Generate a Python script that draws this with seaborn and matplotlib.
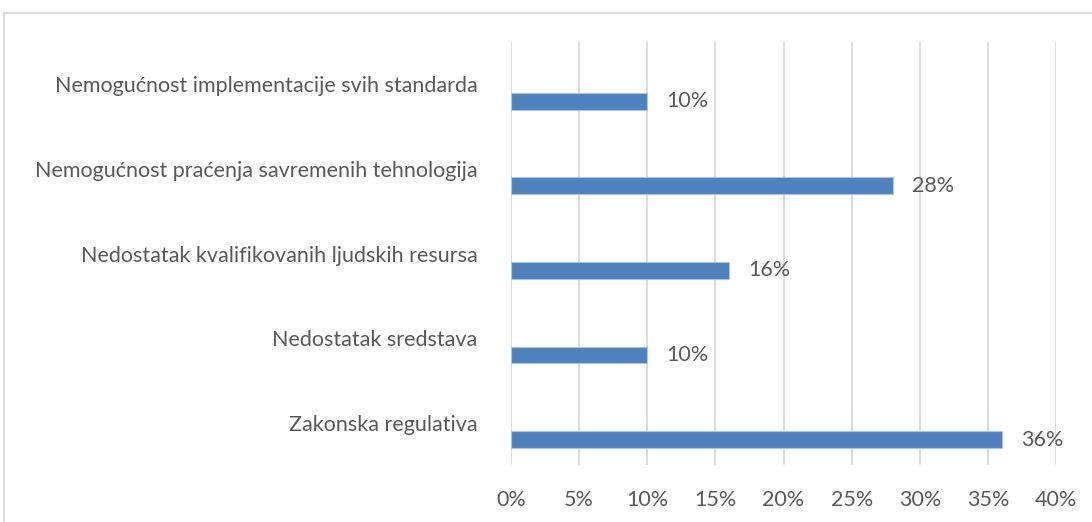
import numpy as np
import pandas as pd
import matplotlib.pyplot as plt
import matplotlib.patches as mpatches
from matplotlib.ticker import MultipleLocator, FuncFormatter
import seaborn as sns

categories = [
    "Nemogućnost implementacije svih standarda",
    "Nemogućnost praćenja savremenih tehnologija",
    "Nedostatak kvalifikovanih ljudskih resursa",
    "Nedostatak sredstava",
    "Zakonska regulativa",
]
values = [10, 28, 16, 10, 36]

TEXT = "#595959"
GRID = "#d9d9d9"
BLUE = "#4f81bd"


def main():
    # empty first series like the Excel original, so the bar sits below the label
    data = pd.concat([
        pd.DataFrame({"category": categories, "value": np.nan, "series": "empty"}),
        pd.DataFrame({"category": categories, "value": values, "series": "value"}),
    ], ignore_index=True)

    sns.set_theme(style="white")
    plt.rcParams["font.family"] = ["Lato", "DejaVu Sans"]

    fig = plt.figure(figsize=(10.92, 5.22), dpi=100)
    ax = fig.add_axes([511 / 1092, 1 - 465 / 522, 545 / 1092, 423 / 522])

    sns.barplot(data=data, x="value", y="category", hue="series",
                hue_order=["empty", "value"], order=categories, palette=[BLUE, BLUE],
                saturation=1, orient="h", width=0.8, gap=0.5, legend=False,
                ax=ax, errorbar=None, edgecolor="#a9c4e4", linewidth=0.8)

    for c in ax.containers:
        ax.bar_label(c, labels=[f"{v:.0f}%" for v in c.datavalues],
                     padding=14, fontsize=15.5, color=TEXT)

    ax.set_xlim(0, 40)
    ax.set_ylim(4.5, -0.5)
    ax.xaxis.set_major_locator(MultipleLocator(5))
    ax.xaxis.set_major_formatter(FuncFormatter(lambda v, p: f"{v:.0f}%"))
    ax.grid(axis="x", color=GRID, linewidth=1.3)
    ax.set_axisbelow(True)
    sns.despine(ax=ax, left=True, bottom=True)
    ax.set_xlabel("")
    ax.set_ylabel("")
    ax.tick_params(axis="x", length=0, pad=18, labelsize=15.5, labelcolor=TEXT)
    ax.tick_params(axis="y", length=0, pad=24, labelsize=15.5, labelcolor=TEXT)

    # light frame around the chart area
    fig.patches.append(mpatches.Rectangle((4 / 1092, -0.1), 1.2, 1 - 13 / 522 + 0.1,
                                          transform=fig.transFigure, fill=False,
                                          edgecolor=GRID, linewidth=1.3))

    fig.savefig("out.png", dpi=100)


if __name__ == "__main__":
    main()
